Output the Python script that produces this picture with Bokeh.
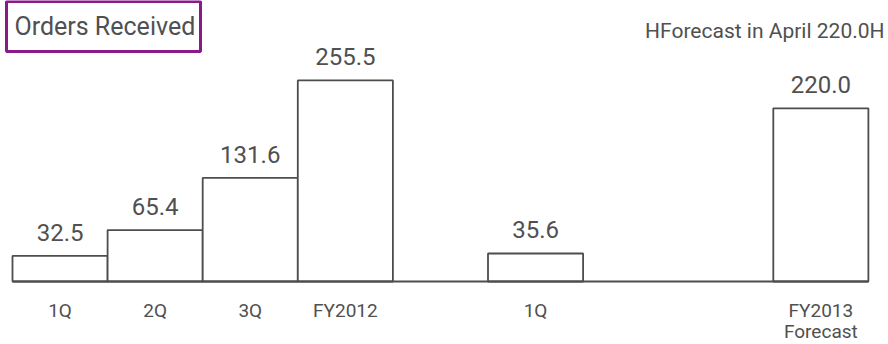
from bokeh.plotting import figure
from bokeh.models import Range1d, ColumnDataSource, Label, BoxAnnotation
from bokeh.core.properties import value
from bokeh.embed import file_html
from bokeh.resources import INLINE

# ---- data ----
categories = ["1Q", "2Q", "3Q", "FY2012", "1Q", "FY2013\nForecast"]
slots = [0, 1, 2, 3, 5, 8]          # position of each bar along the axis
orders = [32.5, 65.4, 131.6, 255.5, 35.6, 220.0]
title_text = "Orders Received"
note_text = "HForecast in April 220.0H"
n_slots = 9

FONT = "Roboto"
TXT = "#505050"
LINE = "#4d4d4d"

W, H = 888, 344
left_px, slot_px = 12, 95.1
base_px, scale = 281, 0.787

p = figure(width=W, height=H, output_backend="svg", toolbar_location=None,
           min_border=0, outline_line_color=None,
           x_range=Range1d(-left_px / slot_px, (W - left_px) / slot_px),
           y_range=Range1d(-(H - base_px) / scale, base_px / scale))
p.axis.visible = False
p.grid.visible = False
p.background_fill_color = "white"
p.border_fill_color = "white"

src = ColumnDataSource(dict(
    x=[s + 0.5 for s in slots],
    top=orders,
    vlab=[f"{v:.1f}" for v in orders],
    cat=categories,
    zero=[0] * len(orders),
))

p.vbar(x="x", top="top", bottom=0, width=1, source=src,
       fill_color="white", line_color=LINE, line_width=1.8)
p.line([0, n_slots], [0, 0], line_color=LINE, line_width=1.8)

p.text(x="x", y="top", text="vlab", source=src, text_align="center",
       text_baseline="bottom", y_offset=-15, text_font=value(FONT),
       text_font_size="24px", text_color=TXT)

p.text(x="x", y="zero", text="cat", source=src, text_align="center",
       text_baseline="top", y_offset=17, text_font=value(FONT),
       text_font_size="19px", text_color=TXT, text_line_height=0.95)

box = BoxAnnotation(left=6, right=200, top=H - 1, bottom=H - 51,
                    left_units="screen", right_units="screen",
                    top_units="screen", bottom_units="screen",
                    fill_color="white", fill_alpha=1,
                    line_color="#8B1A89", line_alpha=1, line_width=3)
p.add_layout(box)

p.add_layout(Label(x=14, y=H - 26, x_units="screen", y_units="screen",
                   text=title_text, text_font=FONT, text_font_size="25px",
                   text_color=TXT, text_baseline="middle"))
p.add_layout(Label(x=884, y=H - 30, x_units="screen", y_units="screen",
                   text=note_text, text_font=FONT, text_font_size="21px",
                   text_color=TXT, text_baseline="middle", text_align="right"))

open("out.html", "w").write(file_html(p, INLINE))
